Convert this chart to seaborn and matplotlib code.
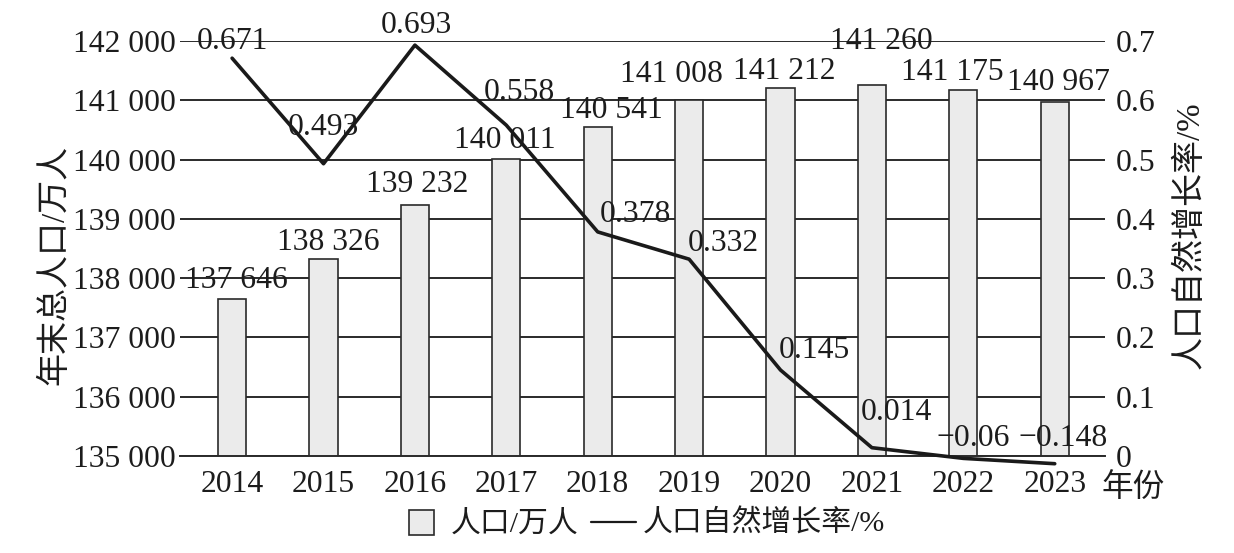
import numpy as np
import pandas as pd
import matplotlib
matplotlib.use('Agg')
import matplotlib.pyplot as plt
import seaborn as sns
from matplotlib.lines import Line2D

################################################################################
### data
################################################################################
years      = ['2014','2015','2016','2017','2018','2019','2020','2021','2022','2023']
population = [137646, 138326, 139232, 140011, 140541, 141008, 141212, 141260, 141175, 140967]
rate       = [0.671, 0.493, 0.693, 0.558, 0.378, 0.332, 0.145, 0.014, -0.06, -0.148]
# printed line flattens out under zero instead of following the labels
rate_drawn = [0.671, 0.493, 0.693, 0.558, 0.378, 0.332, 0.145, 0.014, -0.004, -0.013]

pop_ticks  = list(range(135000, 142001, 1000))
rate_ticks = [0, 0.1, 0.2, 0.3, 0.4, 0.5, 0.6, 0.7]

# label placement (pixels, centre of text relative to the mark)
pop_off  = [(4,19),(5,16),(2,21),(-1,18),(14,17),(-18,25),(4,16),(9,43),(-11,17),(4,20)]
rate_off = [(0,17),(0,36),(1,20),(13,33),(38,17),(34,16),(34,20),(25,35),(10,20),(8,25)]

################################################################################
### style
################################################################################
sns.set_theme(style="white")
plt.rcParams['font.family'] = ['Liberation Serif', 'Noto Sans CJK SC']
plt.rcParams['axes.unicode_minus'] = True
fs  = 22.8
ink = '#1c1c1c'

def spaced(v):
    return f"{v:,}".replace(',', ' ')

def rate_txt(v):
    return str(v).replace('-', '\u2212')

################################################################################
### figure
################################################################################
W, H = 1234, 553
fig = plt.figure(figsize=(W/100, H/100), dpi=100)
ax = fig.add_axes([180/W, 1-456/H, (1105-180)/W, (456-41)/H])

df = pd.DataFrame({'year': years, 'pop': population})
sns.barplot(data=df, x='year', y='pop', ax=ax, color='#ebebeb', saturation=1,
            edgecolor='#2a2a2a', linewidth=1.2, width=0.31)

ax.set_ylim(135000, 142000)
ax.set_yticks(pop_ticks)
ax.set_yticklabels([spaced(v) for v in pop_ticks])
ax.grid(axis='y', color='#2a2a2a', lw=1.4)
ax.set_axisbelow(True)
for s in ['left','right','top']:
    ax.spines[s].set_visible(False)
ax.spines['bottom'].set_color('#2a2a2a')
ax.spines['bottom'].set_linewidth(1.4)
ax.tick_params(axis='y', length=0, pad=3, labelsize=fs, labelcolor=ink)
ax.tick_params(axis='x', length=0, pad=10, labelsize=fs, labelcolor=ink)
ax.set_xlabel('')
ax.set_ylabel('')

for i, v in enumerate(population):
    ax.annotate(spaced(v), xy=(i, v), xytext=pop_off[i], textcoords='offset pixels',
                ha='center', va='center', fontsize=fs, color=ink)

ax2 = ax.twinx()
sns.lineplot(x=np.arange(len(years)), y=rate_drawn, ax=ax2, color='#1a1a1a',
             lw=2.6, clip_on=False)
ax2.set_ylim(0, 0.7)
ax2.set_yticks(rate_ticks)
ax2.set_yticklabels(['0'] + [f"{v:.1f}" for v in rate_ticks[1:]])
for s in ['left','right','top','bottom']:
    ax2.spines[s].set_visible(False)
ax2.tick_params(axis='y', length=0, pad=8, labelsize=fs, labelcolor=ink)
ax2.set_ylabel('')

for i, v in enumerate(rate):
    ax2.annotate(rate_txt(v), xy=(i, rate_drawn[i]), xytext=rate_off[i],
                 textcoords='offset pixels', ha='center', va='center',
                 fontsize=fs, color=ink, annotation_clip=False)

ax.set_xlim(-0.57, 9.55)

fig.text(55/W, 1-265/H, '年末总人口/万人', rotation=90, ha='center', va='center',
         fontsize=fs+1, color=ink, fontweight='light')
fig.text(1190/W, 1-235/H, '人口自然增长率/%', rotation=90, ha='center', va='center',
         fontsize=fs+1, color=ink, fontweight='light')
fig.text(1133/W, 1-488/H, '年份', ha='center', va='center', fontsize=fs, color=ink,
         fontweight='light')

handles = [Line2D([], [], marker='s', markersize=18, markerfacecolor='#ebebeb',
                  markeredgecolor='#2a2a2a', markeredgewidth=1.2, linestyle='None'),
           Line2D([], [], color='#1a1a1a', lw=1.6)]
fig.legend(handles, ['人口/万人', '人口自然增长率/%'], loc='center',
           bbox_to_anchor=(642/W, 1-524/H), ncol=2, frameon=False,
           handlelength=1.5, handletextpad=0.25, columnspacing=0.4,
           prop={'size': 21.5, 'weight': 'light'}, labelcolor=ink)

fig.savefig('out.png', dpi=100)
